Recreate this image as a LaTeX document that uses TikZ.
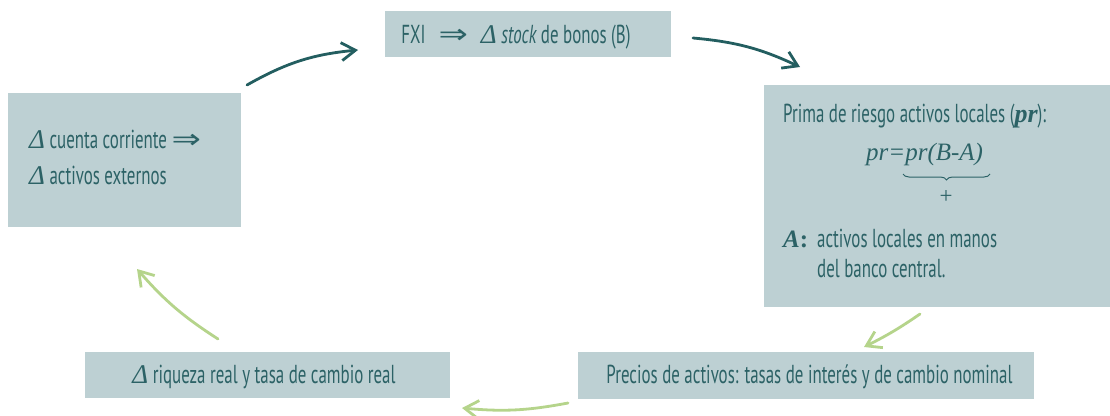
\documentclass[tikz,border=0pt]{standalone}
\usepackage{graphicx}
\usepackage{fontspec}
\setmainfont{PT Sans}[FakeStretch=0.65]
\newfontfamily\serf{Liberation Serif}
\newfontfamily\dejavu{DejaVu Sans}
\usetikzlibrary{arrows.meta,decorations.pathreplacing}
\definecolor{boxfill}{RGB}{189,208,211}
\definecolor{txt}{RGB}{44,98,102}
\definecolor{darkarr}{RGB}{35,94,96}
\definecolor{greenarr}{RGB}{181,212,139}
\newcommand{\dl}{{\serf\itshape\fontsize{27}{28}\selectfont Δ}}
\newcommand{\implarrow}{\scalebox{1.3}[1]{\dejavu\fontsize{27}{28}\selectfont ⇒}}
\begin{document}
\begin{tikzpicture}[x=1pt,y=-1pt,
  box/.style={fill=boxfill, draw=none, inner sep=0pt, outer sep=0pt},
  lbl/.style={text=txt, font=\fontsize{26}{30}\selectfont, inner sep=0pt},
  darrow/.style={draw=darkarr, line width=2.8pt, line cap=round,
     -{Straight Barb[length=14pt,width=18pt,line width=2.8pt]}},
  garrow/.style={draw=greenarr, line width=2.8pt, line cap=round,
     -{Straight Barb[length=14pt,width=18pt,line width=2.8pt]}}
]
\useasboundingbox (0,0) rectangle (1110,415);
% boxes
\node[box, minimum width=286pt, minimum height=46pt] (fxi) at (528,34) {};
\node[box, minimum width=346pt, minimum height=222pt] (pr) at (937,196) {};
\node[box, minimum width=233pt, minimum height=134pt] (cc) at (124.5,160) {};
\node[box, minimum width=365pt, minimum height=46pt] (riq) at (267.5,375) {};
\node[box, minimum width=456pt, minimum height=47pt] (prec) at (806,375.5) {};
% texts
\node[lbl, anchor=base] (tfxi) at (516,43) {FXI\enspace\implarrow\enspace\dl\ {\itshape stock} de bonos (B)};
\node[lbl, anchor=base] (triq) at (264,383) {\dl\ riqueza real y tasa de cambio real};
\node[lbl, anchor=base] (tprec) at (809.5,383) {Precios de activos: tasas de interés y de cambio nominal};
\node[lbl, anchor=base west] (tcc1) at (29,148) {\dl\ cuenta corriente \implarrow};
\node[lbl, anchor=base west] (tcc2) at (29,184) {\dl\ activos externos};
\node[lbl, anchor=base west] (tpr1) at (783,122) {Prima de riesgo activos locales ({\serf\bfseries\itshape pr}):};
\node[lbl, anchor=base west, font=\serf\itshape\fontsize{25}{28}\selectfont] (tform) at (866,160) {pr=pr(B-A)};
\coordinate (bl) at (903,174);
\coordinate (br) at (990,174);
\draw[txt, line width=1pt, decorate, decoration={brace, mirror, amplitude=6pt}] (bl) -- (br);
\node[lbl, font=\serf\fontsize{23}{24}\selectfont] (plus) at (946,197) {+};
\node[lbl, anchor=base west, font=\serf\bfseries\fontsize{25}{28}\selectfont] (tA) at (783,247) {{\itshape A}:};
\node[lbl, anchor=base west] (tpr2) at (817,247) {activos locales en manos};
\node[lbl, anchor=base west] (tpr3) at (817,277) {del banco central.};
% arrows
\coordinate (a1s) at (247,85);  \coordinate (a1e) at (358,50);
\coordinate (a2s) at (693,38);  \coordinate (a2e) at (800,67);
\coordinate (a3s) at (920,314); \coordinate (a3e) at (864,347);
\coordinate (a4s) at (568,403); \coordinate (a4e) at (462,408);
\coordinate (a5s) at (218,339); \coordinate (a5e) at (137,269);
\draw[darrow] (a1s) to[bend left=12] (a1e);
\draw[darrow] (a2s) to[bend left=10] (a2e);
\draw[garrow] (a3s) to[bend left=4] (a3e);
\draw[garrow] (a4s) to[bend left=8] (a4e);
\draw[garrow] (a5s) to[bend left=8] (a5e);
\end{tikzpicture}
\end{document}
